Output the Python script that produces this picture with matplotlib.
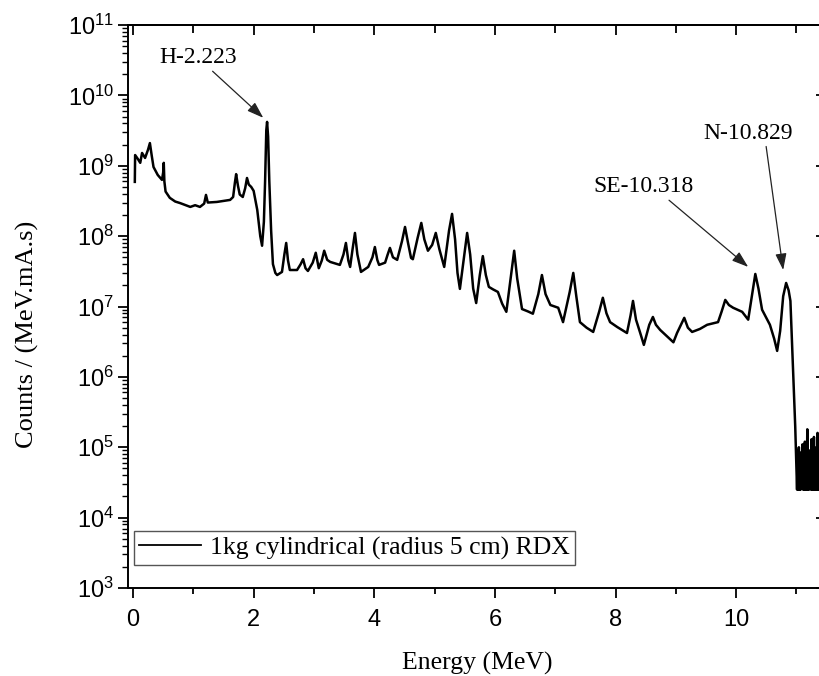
import matplotlib
matplotlib.use("Agg")
import matplotlib.pyplot as plt
from matplotlib.ticker import MultipleLocator, LogLocator, NullFormatter

# ---- spectrum data (energy in MeV, counts per MeV.mA.s) ----
energy_mev = [0.03, 0.035, 0.08, 0.12, 0.15, 0.20, 0.25, 0.28, 0.31, 0.34,
              0.41, 0.48, 0.50, 0.51, 0.52, 0.54, 0.61, 0.70, 0.78, 0.95,
              1.03, 1.11, 1.18, 1.21, 1.24, 1.39, 1.61, 1.66, 1.69, 1.71,
              1.74, 1.77, 1.82, 1.86, 1.89, 1.92, 1.96, 2.00, 2.06, 2.11,
              2.14, 2.17, 2.19, 2.21, 2.223, 2.24, 2.26, 2.29, 2.32, 2.36,
              2.39, 2.47, 2.51, 2.54, 2.57, 2.60, 2.72, 2.78, 2.82, 2.86,
              2.90, 2.98, 3.03, 3.08, 3.13, 3.17, 3.22, 3.27, 3.43, 3.49,
              3.53, 3.57, 3.60, 3.64, 3.68, 3.72, 3.78, 3.90, 3.97, 4.01,
              4.05, 4.08, 4.18, 4.22, 4.26, 4.31, 4.38, 4.46, 4.51, 4.56,
              4.61, 4.64, 4.72, 4.78, 4.83, 4.89, 4.96, 5.02, 5.08, 5.16,
              5.24, 5.29, 5.34, 5.38, 5.42, 5.48, 5.54, 5.59, 5.64, 5.69,
              5.75, 5.80, 5.85, 5.90, 5.97, 6.05, 6.12, 6.19, 6.26, 6.32,
              6.37, 6.45, 6.55, 6.63, 6.72, 6.78, 6.84, 6.92, 7.05, 7.13,
              7.24, 7.30, 7.35, 7.41, 7.52, 7.63, 7.73, 7.79, 7.85, 7.91,
              8.03, 8.19, 8.25, 8.29, 8.34, 8.41, 8.47, 8.56, 8.62, 8.67,
              8.74, 8.85, 8.96, 9.02, 9.14, 9.20, 9.27, 9.40, 9.52, 9.70,
              9.76, 9.82, 9.88, 9.95, 10.10, 10.20, 10.27, 10.318, 10.37, 10.43,
              10.56, 10.63, 10.68, 10.73, 10.78, 10.829, 10.87, 10.90, 10.94, 10.98,
              11.01]
counts = [5.9e8, 1.42e9, 1.25e9, 1.10e9, 1.52e9, 1.29e9, 1.7e9, 2.10e9, 1.4e9, 9.6e8,
          7.4e8, 6.3e8, 8.0e8, 1.10e9, 6.0e8, 4.3e8, 3.5e8, 3.1e8, 2.95e8, 2.6e8,
          2.75e8, 2.6e8, 2.9e8, 3.85e8, 3.0e8, 3.06e8, 3.27e8, 3.6e8, 5.8e8, 7.6e8,
          5.2e8, 3.9e8, 3.6e8, 4.8e8, 6.7e8, 5.4e8, 5.0e8, 4.4e8, 2.36e8, 1.0e8,
          7.3e7, 1.6e8, 6.0e8, 3.2e9, 4.2e9, 2.6e9, 6.0e8, 1.2e8, 4.0e7, 3.0e7,
          2.8e7, 3.1e7, 5.5e7, 8.0e7, 4.5e7, 3.3e7, 3.3e7, 4.0e7, 4.7e7, 3.5e7,
          3.2e7, 4.2e7, 5.8e7, 3.5e7, 4.5e7, 6.2e7, 4.6e7, 4.3e7, 3.9e7, 5.5e7,
          8.0e7, 4.5e7, 3.65e7, 6.5e7, 1.11e8, 5.5e7, 3.1e7, 3.65e7, 5.0e7, 7.0e7,
          4.6e7, 3.9e7, 4.2e7, 5.4e7, 6.8e7, 5.0e7, 4.6e7, 8.5e7, 1.35e8, 8.0e7,
          4.9e7, 4.7e7, 9.5e7, 1.54e8, 9.0e7, 6.2e7, 7.5e7, 1.11e8, 6.5e7, 3.65e7,
          1.2e8, 2.07e8, 9.0e7, 3.0e7, 1.78e7, 4.5e7, 1.11e8, 5.5e7, 1.8e7, 1.12e7,
          2.8e7, 5.2e7, 2.8e7, 1.9e7, 1.75e7, 1.61e7, 1.1e7, 8.4e6, 2.5e7, 6.2e7,
          2.5e7, 9.2e6, 8.5e6, 7.9e6, 1.5e7, 2.8e7, 1.5e7, 1.05e7, 9.6e6, 6.0e6,
          1.6e7, 3.0e7, 1.4e7, 6.0e6, 5.0e6, 4.35e6, 8.5e6, 1.33e7, 8.0e6, 6.0e6,
          5.1e6, 4.2e6, 7.5e6, 1.2e7, 6.5e6, 4.2e6, 2.85e6, 5.5e6, 7.1e6, 5.5e6,
          4.65e6, 3.8e6, 3.1e6, 4.2e6, 6.9e6, 5.0e6, 4.35e6, 4.8e6, 5.5e6, 6.0e6,
          8.5e6, 1.24e7, 1.05e7, 9.6e6, 8.4e6, 6.5e6, 1.6e7, 2.9e7, 1.8e7, 9.0e6,
          5.5e6, 3.5e6, 2.34e6, 4.5e6, 1.4e7, 2.16e7, 1.7e7, 1.2e7, 1.5e6, 1.95e5,
          2.5e4]

# background-level channels above the endpoint
tail_energy_mev = [11.02, 11.03, 11.04, 11.05, 11.06, 11.07, 11.08, 11.09, 11.10, 11.11,
                   11.12, 11.13, 11.14, 11.15, 11.16, 11.17, 11.18, 11.19, 11.20, 11.21,
                   11.22, 11.23, 11.24, 11.25, 11.26, 11.27, 11.28, 11.29, 11.30, 11.31,
                   11.32, 11.33, 11.34, 11.35, 11.36, 11.37, 11.38, 11.39, 11.40, 11.41,
                   11.42, 11.43, 11.44, 11.45, 11.46, 11.47, 11.48, 11.49, 11.50]
tail_counts = [9.0e4, 2.5e4, 1.0e5, 2.5e4, 6.0e4, 2.5e4, 8.5e4, 3.0e4, 1.1e5, 2.5e4,
               7.0e4, 2.5e4, 1.2e5, 2.5e4, 5.0e4, 2.5e4, 1.8e5, 2.5e4, 6.5e4, 2.5e4,
               9.0e4, 3.5e4, 2.5e4, 1.3e5, 2.5e4, 7.5e4, 2.5e4, 1.4e5, 2.5e4, 5.5e4,
               2.5e4, 1.0e5, 2.5e4, 1.6e5, 2.5e4, 8.0e4, 2.5e4, 1.2e5, 3.0e4, 7.0e4,
               2.5e4, 1.1e5, 2.5e4, 6.0e4, 2.5e4, 1.3e5, 2.5e4, 9.0e4, 2.5e4]

series_label = "1kg cylindrical (radius 5 cm) RDX"

# peak annotations: label, text position, arrow tip, arrow anchor on the text
peak_labels = ["H-2.223", "SE-10.318", "N-10.829"]
label_pos = [(1.08, 3.4e10), (8.46, 5.0e8), (10.20, 2.9e9)]
arrow_tip = [(2.16, 4.8e9), (10.20, 3.65e7), (10.78, 3.3e7)]
arrow_relpos = [(0.5, 0.5), (0.6, 0.5), (0.68, 0.5)]

SERIF = "Liberation Serif"
plt.rcParams["font.family"] = "Liberation Sans"
plt.rcParams["mathtext.fontset"] = "custom"
plt.rcParams["mathtext.rm"] = "Liberation Sans"
plt.rcParams["mathtext.it"] = "Liberation Sans:italic"
plt.rcParams["mathtext.default"] = "regular"

fig = plt.figure(figsize=(8.2, 6.76), dpi=100)
ax = fig.add_axes([128 / 820, 88 / 676, 698 / 820, 563 / 676])

ax.plot(energy_mev + tail_energy_mev, counts + tail_counts,
        color="black", lw=1.8, label=series_label, solid_joinstyle="round")

ax.set_yscale("log")
ax.set_ylim(1e3, 1e11)
ax.set_xlim(-0.083, 11.49)

ax.xaxis.set_major_locator(MultipleLocator(2))
ax.xaxis.set_minor_locator(MultipleLocator(1))
ax.yaxis.set_major_locator(LogLocator(base=10, numticks=20))
ax.yaxis.set_minor_locator(LogLocator(base=10, subs=range(2, 10), numticks=20))
ax.yaxis.set_minor_formatter(NullFormatter())

for s in ax.spines.values():
    s.set_linewidth(1.4)

ax.tick_params(axis="x", which="major", direction="out", length=7, width=1.3,
               labelsize=17, pad=8, top=False)
ax.tick_params(axis="x", which="minor", direction="out", length=4, width=1.3, top=False)
ax.tick_params(axis="y", which="major", direction="out", length=7, width=1.3,
               labelsize=17, pad=3, right=False)
ax.tick_params(axis="y", which="minor", direction="out", length=4, width=1.0, right=False)

# mirrored ticks on the top and right edges, pointing inward
secx = ax.secondary_xaxis("top")
secx.xaxis.set_major_locator(MultipleLocator(2))
secx.xaxis.set_minor_locator(MultipleLocator(1))
secx.tick_params(axis="x", which="major", direction="in", length=7, width=1.3, labeltop=False)
secx.tick_params(axis="x", which="minor", direction="in", length=6, width=1.3)
secx.spines["top"].set_linewidth(1.4)

secy = ax.secondary_yaxis("right")
secy.yaxis.set_major_locator(LogLocator(base=10, numticks=20))
secy.yaxis.set_minor_locator(LogLocator(base=10, subs=range(2, 10), numticks=20))
secy.yaxis.set_minor_formatter(NullFormatter())
secy.tick_params(axis="y", which="major", direction="in", length=7, width=1.3, labelright=False)
secy.tick_params(axis="y", which="minor", direction="in", length=4, width=1.0)

ax.set_xlabel("Energy (MeV)", fontfamily=SERIF, fontsize=18.5, labelpad=15)
ax.set_ylabel("Counts / (MeV.mA.s)", fontfamily=SERIF, fontsize=19)
ax.yaxis.set_label_coords(-0.127, 0.45)

for text, pos, tip, rel in zip(peak_labels, label_pos, arrow_tip, arrow_relpos):
    ax.annotate(text, xy=tip, xytext=pos, textcoords="data",
                ha="center", va="center", fontfamily=SERIF, fontsize=17,
                arrowprops=dict(arrowstyle="-|>,head_length=0.5,head_width=0.17",
                                mutation_scale=20, color="#222222", lw=0.9,
                                shrinkA=0, shrinkB=0, relpos=rel))

leg = ax.legend(loc="lower left", bbox_to_anchor=(0.0086, 0.0409), borderaxespad=0,
                prop=dict(family=SERIF, size=18.5), fancybox=False, framealpha=1,
                edgecolor="#555555", handlelength=2.4, handletextpad=0.35,
                borderpad=0.2)
leg.get_frame().set_linewidth(1.0)
leg.get_lines()[0].set_linewidth(1.3)

fig.savefig("out.png", dpi=100)
